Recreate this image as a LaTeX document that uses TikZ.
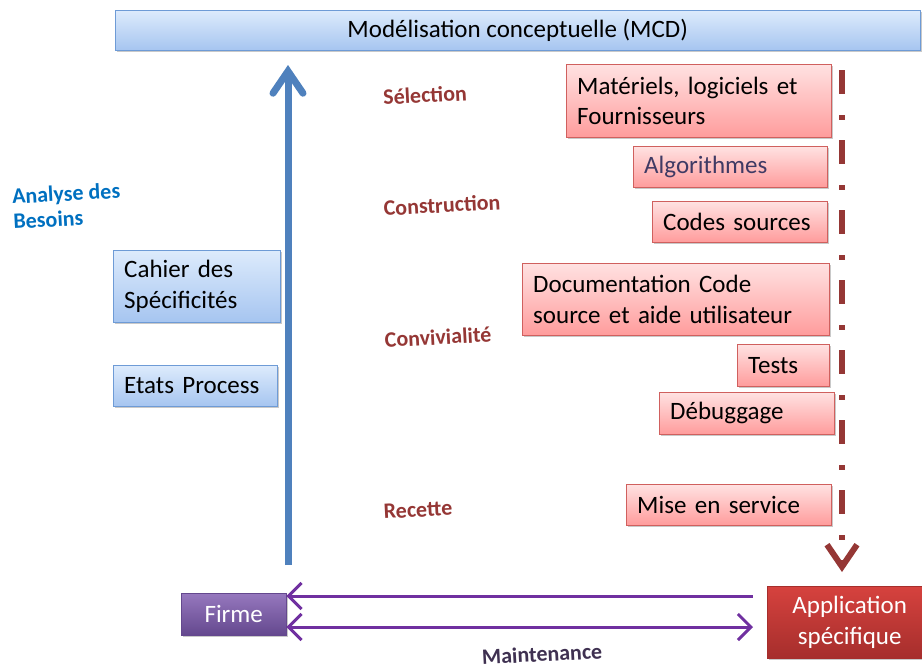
\documentclass[tikz,border=0pt]{standalone}
\usepackage{fontspec}
\setmainfont{Carlito}
\usepackage{xcolor}
\usetikzlibrary{arrows.meta,positioning,shadows,calc}
\definecolor{mcdblue}{RGB}{79,129,189}
\definecolor{bluetop}{RGB}{221,235,252}
\definecolor{bluebot}{RGB}{166,197,240}
\definecolor{blueline}{RGB}{110,155,214}
\definecolor{redtop}{RGB}{255,226,226}
\definecolor{redbot}{RGB}{255,156,156}
\definecolor{redline}{RGB}{208,96,94}
\definecolor{phasered}{RGB}{149,55,53}
\definecolor{besoinblue}{RGB}{0,112,192}
\definecolor{firmtop}{RGB}{150,120,190}
\definecolor{firmbot}{RGB}{100,72,142}
\definecolor{apptop}{RGB}{214,66,62}
\definecolor{appbot}{RGB}{166,46,44}
\definecolor{maintpurple}{RGB}{112,48,160}
\definecolor{maintdark}{RGB}{63,49,81}
\definecolor{algotext}{RGB}{64,58,100}

\begin{document}
\begin{tikzpicture}[x=1pt,y=-1pt,
    box/.style={anchor=north west,rectangle,inner xsep=11pt,inner ysep=0pt,
                align=left,font=\fontsize{25}{30.5}\selectfont,
                drop shadow={shadow xshift=2pt,shadow yshift=-2pt,
                             opacity=.3,fill=black!70}},
    bbox/.style={box,draw=blueline,top color=bluetop,bottom color=bluebot},
    rbox/.style={box,draw=redline,top color=redtop,bottom color=redbot},
    phase/.style={font=\fontsize{22}{25}\selectfont\bfseries,
                  text=phasered,rotate=3},
    parr/.style={maintpurple,line width=3pt,
                 {Straight Barb[length=13pt,width=26pt]}-},
  ]
    \useasboundingbox (0,0) rectangle (922,670);

    \node[bbox,align=center,minimum width=805pt,minimum height=40pt](mcd)
      at (115,10){Modélisation conceptuelle (MCD)};

    \node[bbox,text width=145pt,minimum height=72pt](cahier)
      at (113,250){Cahier des\\Spécificités};
    \node[bbox,text width=142pt,minimum height=41pt](etats)
      at (113,365){Etats Process};

    \node[anchor=north west,align=left,font=\fontsize{22}{25}\selectfont\bfseries,
      text=besoinblue,rotate=3](besoins) at (8,185){Analyse des\\Besoins};

    \node[phase](selection) at (425,95){Sélection};
    \node[phase](construction) at (442,205){Construction};
    \node[phase](convivialite) at (438,337){Convivialité};
    \node[phase](recette) at (418,510){Recette};

    \node[rbox,text width=243pt,minimum height=73pt](materiels)
      at (566,64){Matériels, logiciels et\\Fournisseurs};
    \node[rbox,text width=172pt,minimum height=41pt,text=algotext](algo)
      at (633,146){Algorithmes};
    \node[rbox,text width=153pt,minimum height=41pt](codes)
      at (652,201){Codes sources};
    \node[rbox,text width=285pt,minimum height=72pt](doc)
      at (522,263){Documentation Code\\source et aide utilisateur};
    \node[rbox,text width=70pt,minimum height=42pt](tests)
      at (737,344){Tests};
    \node[rbox,text width=153pt,minimum height=42pt](debug)
      at (659,392){Débuggage};
    \node[rbox,text width=183pt,minimum height=41pt](mise)
      at (626,484){Mise en service};

    \node[box,align=center,minimum width=105pt,minimum height=42pt,
      draw=firmbot,top color=firmtop,bottom color=firmbot,text=white](firme)
      at (181,593){Firme};
    \node[box,align=center,minimum width=165pt,minimum height=72pt,
      draw=appbot,top color=apptop,bottom color=appbot,text=white](app)
      at (767,586){Application\\spécifique};

    \coordinate (bstart) at (288,565);
    \coordinate (bend) at (288,65);
    \draw[mcdblue,line width=7pt,
      -{Straight Barb[length=22pt,width=30pt,line cap=round]}](bstart)--(bend);

    \coordinate (rstart) at (842,70);
    \coordinate (rend) at (842,572);
    \draw[phasered,line width=6pt,dash pattern=on 24pt off 21pt on 5pt off 20pt,
      -{Straight Barb[length=22pt,width=30pt]}](rstart)--(rend);

    \coordinate (m1) at (753,596);
    \coordinate (m2) at (753,627);
    \draw[parr](m1 -| firme.east)--(m1);
    \draw[parr,{Straight Barb[length=13pt,width=26pt]}-{Straight Barb[length=13pt,width=26pt]}]
      (m2 -| firme.east)--(m2);
    \node[font=\fontsize{22}{25}\selectfont\bfseries,text=maintdark,rotate=3]
      (maint) at (542,654){Maintenance};
  \end{tikzpicture}
\end{document}
